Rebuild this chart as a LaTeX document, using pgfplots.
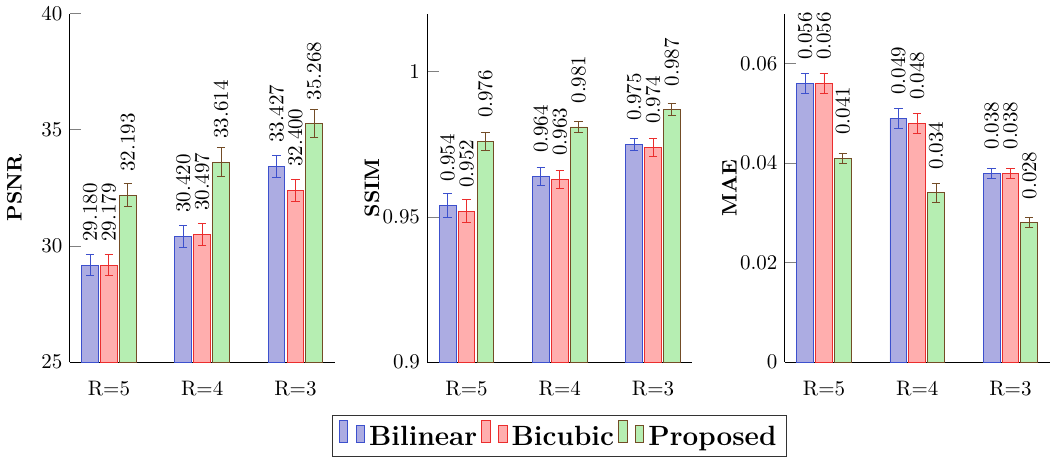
\documentclass[border=0pt]{standalone}
\usepackage{pgfplots}
\pgfplotsset{compat=1.18}
\definecolor{bfill}{RGB}{172,172,226}
\definecolor{rfill}{RGB}{255,174,174}
\definecolor{gfill}{RGB}{182,238,178}
\definecolor{bedge}{RGB}{60,80,205}
\definecolor{redge}{RGB}{235,45,45}
\colorlet{gedge}{brown!60!black}
\pgfplotsset{
  /pgfplots/ybar legend/.style={
    /pgfplots/legend image code/.code={%
      \draw[##1,yshift=-0.25em] (0pt,0pt) rectangle (4pt,10.5pt);
      \draw[##1,yshift=-0.25em] (8pt,0pt) rectangle (12pt,8pt);
    },
  },
  myaxis/.style={
    scale only axis, width=126.4pt, height=166.3pt,
    ybar=1pt, bar width=8pt,
    xmin=-0.42, xmax=2.42,
    xtick={0,1,2}, xticklabels={R=5,R=4,R=3},
    axis x line*=bottom, axis y line*=left,
    xtick style={draw=none},
    ytick style={gray, thin}, tick align=inside, major tick length=5.5pt,
    xticklabel style={yshift=-5.5pt},
    scaled y ticks=false,
    yticklabel style={/pgf/number format/fixed},
    every axis y label/.style={at={(axis description cs:-0.209,0.5)}, rotate=90, anchor=center, font=\bfseries},
    nodes near coords={\pgfmathprintnumber[fixed,fixed zerofill,precision=3]{\pgfplotspointmeta}},
    every node near coord/.append style={yshift=7.7pt, rotate=90, anchor=west, text=black},
    error bars/y dir=both, error bars/y explicit,
    cycle list={
      {bedge, fill=bfill},
      {redge, fill=rfill},
      {gedge, fill=gfill}},
  }
}
\begin{document}
\begin{tikzpicture}
\begin{axis}[myaxis, at={(0pt,0pt)}, ymin=25, ymax=40, ytick={25,30,35,40}, ylabel={PSNR}]
\addplot coordinates {(0,29.180) +- (0,0.45) (1,30.420) +- (0,0.46) (2,33.427) +- (0,0.46)};
\addplot coordinates {(0,29.179) +- (0,0.45) (1,30.497) +- (0,0.46) (2,32.400) +- (0,0.46)};
\addplot coordinates {(0,32.193) +- (0,0.51) (1,33.614) +- (0,0.61) (2,35.268) +- (0,0.60)};
\end{axis}
\begin{axis}[myaxis, at={(170.7pt,0pt)}, ymin=0.9, ymax=1.02, ytick={0.9,0.95,1}, ylabel={SSIM},
  legend style={at={(0.5,-0.153)}, anchor=north, legend columns=-1, draw=black!80,
    font=\fontsize{13.3}{16}\selectfont\bfseries}]
\addplot coordinates {(0,0.954) +- (0,0.004) (1,0.964) +- (0,0.003) (2,0.975) +- (0,0.002)};
\addplot coordinates {(0,0.952) +- (0,0.004) (1,0.963) +- (0,0.003) (2,0.974) +- (0,0.003)};
\addplot coordinates {(0,0.976) +- (0,0.003) (1,0.981) +- (0,0.002) (2,0.987) +- (0,0.002)};
\legend{Bilinear,Bicubic,Proposed}
\end{axis}
\begin{axis}[myaxis, at={(341.3pt,0pt)}, ymin=0, ymax=0.07, ytick={0,0.02,0.04,0.06}, ylabel={MAE}]
\addplot coordinates {(0,0.056) +- (0,0.002) (1,0.049) +- (0,0.002) (2,0.038) +- (0,0.001)};
\addplot coordinates {(0,0.056) +- (0,0.002) (1,0.048) +- (0,0.002) (2,0.038) +- (0,0.001)};
\addplot coordinates {(0,0.041) +- (0,0.001) (1,0.034) +- (0,0.002) (2,0.028) +- (0,0.001)};
\end{axis}
\end{tikzpicture}
\end{document}
